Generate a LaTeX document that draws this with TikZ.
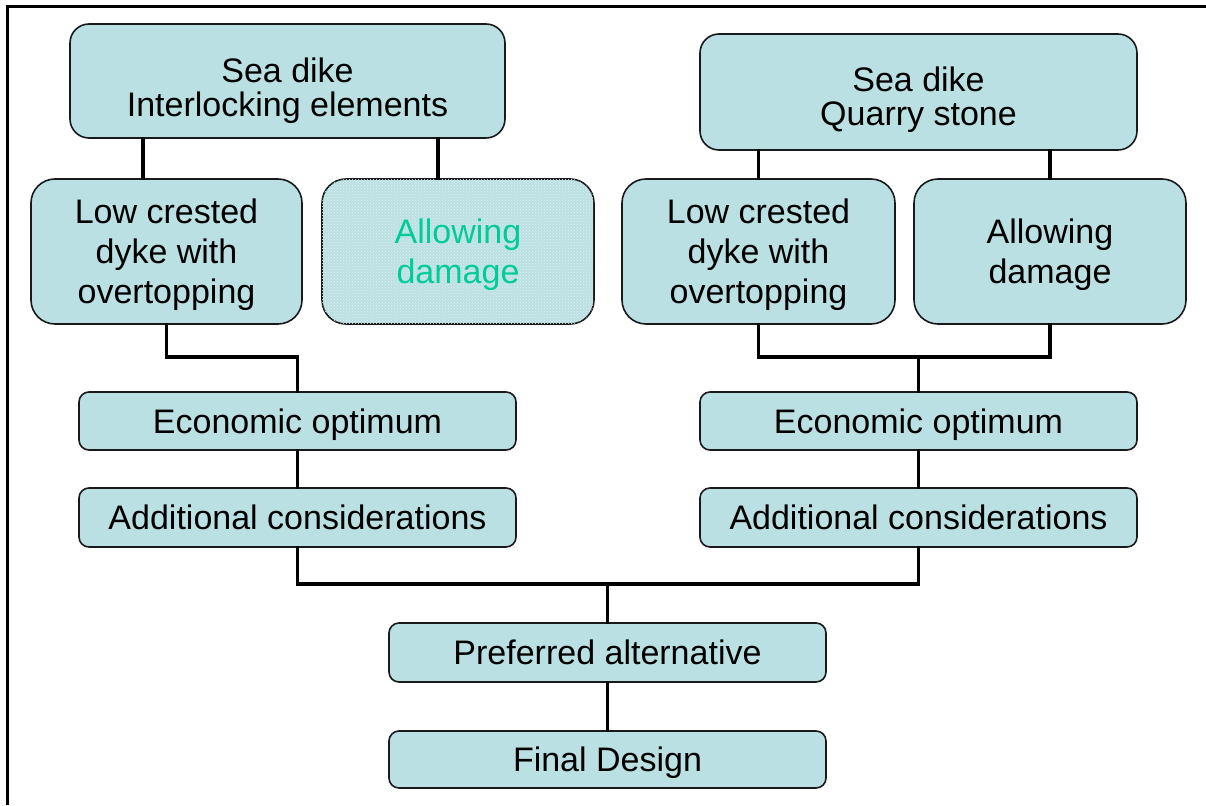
\documentclass[tikz,border=0pt]{standalone}
\usepackage{fontspec}
\setmainfont{Liberation Sans}
\usetikzlibrary{calc,patterns}
\definecolor{boxfill}{HTML}{BBE0E3}
\definecolor{greentext}{HTML}{00CC99}
\definecolor{boxline}{HTML}{1A1A1A}
\tikzset{
  box/.style={draw=boxline, line width=1.6pt, fill=boxfill, align=center, inner sep=0pt,
    font=\fontsize{34}{40}\selectfont, text=black, text depth=0pt},
  tallbox/.style={box, rounded corners=24pt, minimum height=145pt},
  headbox/.style={box, rounded corners=19pt, font=\fontsize{34}{34}\selectfont},
  flatbox/.style={box, rounded corners=10pt, minimum width=437pt, minimum height=58pt},
  link/.style={line width=3.5pt, line cap=rect},
  frame/.style={line width=3pt}
}
\begin{document}
\begin{tikzpicture}[x=1pt,y=-1pt]
\useasboundingbox (0,0) rectangle (1206,805);
\draw[frame] (7,805) -- (7,7) -- (1206,7);

\node[headbox, minimum width=435pt, minimum height=114pt, text height=71pt] (seaA) at (287.5,81) {Sea dike\\Interlocking elements};
\node[headbox, minimum width=437pt, minimum height=116pt, text height=67pt] (seaB) at (918.5,92) {Sea dike\\Quarry stone};

\node[tallbox, minimum width=271pt] (lowA) at (166.5,251.5) {Low crested\\dyke with\\overtopping};
\node[tallbox, minimum width=272pt, text=greentext,
  postaction={pattern=crosshatch dots, pattern color=white!55!boxfill}] (dmgA) at (458,251.5) {Allowing\\damage};
\node[tallbox, minimum width=273pt] (lowB) at (758.5,251.5) {Low crested\\dyke with\\overtopping};
\node[tallbox, minimum width=272pt] (dmgB) at (1050,251.5) {Allowing\\damage};

\node[flatbox] (ecoA) at (297.5,421) {Economic optimum};
\node[flatbox, minimum height=59pt] (addA) at (297.5,517.5) {Additional considerations};
\node[flatbox] (ecoB) at (918.5,421) {Economic optimum};
\node[flatbox, minimum height=59pt] (addB) at (918.5,517.5) {Additional considerations};
\node[flatbox, minimum height=59pt] (pref) at (607.5,652.5) {Preferred alternative};
\node[flatbox, minimum height=57pt] (final) at (607.5,759.5) {Final Design};

\coordinate (c1) at ($(lowA.north)+(-23.5,0)$);
\coordinate (c2) at ($(dmgA.north)+(-20,0)$);
\coordinate (jA) at ($(ecoA.north)+(0,-34)$);
\coordinate (jB) at ($(ecoB.north)+(0,-34)$);
\coordinate (jC) at ($(pref.north)+(0,-38)$);

\draw[link] (c1) -- (c1 |- seaA.south);
\draw[link] (c2) -- (c2 |- seaA.south);
\draw[link] (lowB.north) -- (lowB.north |- seaB.south);
\draw[link] (dmgB.north) -- (dmgB.north |- seaB.south);

\draw[link] (lowA.south) |- (jA) -- (ecoA.north);
\draw[link] (lowB.south) |- (jB) -| (dmgB.south);
\draw[link] (jB) -- (ecoB.north);
\draw[link] (ecoA.south) -- (addA.north);
\draw[link] (ecoB.south) -- (addB.north);
\draw[link] (addA.south) |- (jC) -| (addB.south);
\draw[link] (jC) -- (pref.north);
\draw[link] (pref.south) -- (final.north);
\end{tikzpicture}
\end{document}
